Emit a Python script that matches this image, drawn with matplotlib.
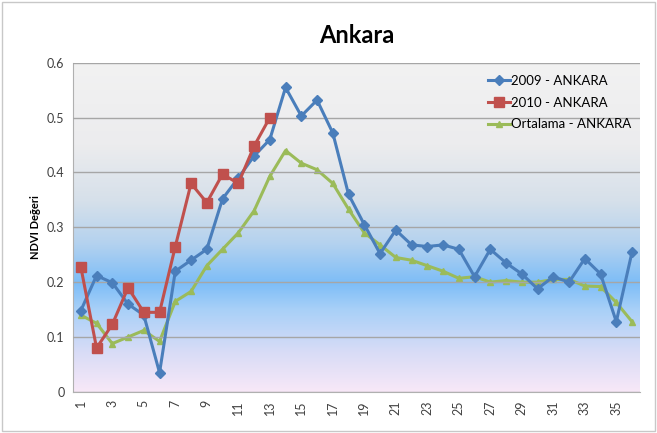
import numpy as np
import matplotlib.pyplot as plt
from matplotlib.colors import LinearSegmentedColormap
from matplotlib.patches import Rectangle

weeks = list(range(1, 37))
ndvi_2009 = [0.148, 0.212, 0.199, 0.160, 0.140, 0.035, 0.220, 0.240, 0.260, 0.352,
             0.390, 0.430, 0.460, 0.555, 0.503, 0.532, 0.472, 0.360, 0.305, 0.252,
             0.295, 0.268, 0.265, 0.268, 0.260, 0.210, 0.260, 0.235, 0.215, 0.188,
             0.210, 0.200, 0.243, 0.215, 0.128, 0.255]
ndvi_2010 = [0.228, 0.080, 0.123, 0.190, 0.145, 0.145, 0.265, 0.380, 0.345, 0.397,
             0.380, 0.448, 0.500]
ndvi_avg = [0.140, 0.125, 0.088, 0.100, 0.112, 0.092, 0.165, 0.183, 0.230, 0.260,
            0.290, 0.330, 0.393, 0.440, 0.417, 0.405, 0.380, 0.333, 0.290, 0.268,
            0.245, 0.240, 0.230, 0.220, 0.207, 0.210, 0.200, 0.203, 0.200, 0.200,
            0.205, 0.205, 0.193, 0.192, 0.163, 0.128]
labels = ['2009 - ANKARA', '2010 - ANKARA', 'Ortalama - ANKARA']

plt.rcParams['font.family'] = ['Lato', 'DejaVu Sans']

fig = plt.figure(figsize=(6.57, 4.33), dpi=100)
ax = fig.add_axes([0.111, 0.095, 0.863, 0.76])

# background gradient of the plot area
bg = LinearSegmentedColormap.from_list('bg', [
    (0.0, '#f8e8f8'), (0.12, '#d8dcf6'), (0.25, '#a8d0f8'), (0.33, '#7dbdf7'),
    (0.45, '#b4d2ef'), (0.58, '#d6e0ea'), (0.75, '#ececee'), (1.0, '#f2f2f2')])
grad = np.linspace(0, 1, 256).reshape(-1, 1)
ax.imshow(grad, cmap=bg, origin='lower', aspect='auto',
          extent=[0.5, 36.5, 0, 0.6], zorder=0)

ax.plot(weeks, ndvi_2009, color='#4a7ebb', lw=2.2, marker='D', ms=5, label=labels[0], zorder=3)
ax.plot(weeks[:len(ndvi_2010)], ndvi_2010, color='#c0504d', lw=2.2, marker='s', ms=7, label=labels[1], zorder=4)
ax.plot(weeks, ndvi_avg, color='#9bbb59', lw=2.2, marker='^', ms=5, label=labels[2], zorder=2)

ax.set_xlim(0.5, 36.5)
ax.set_ylim(0, 0.6)
ax.set_yticks(np.arange(0, 0.61, 0.1))
ax.set_yticklabels(['0', '0.1', '0.2', '0.3', '0.4', '0.5', '0.6'])
ax.set_xticks(weeks[::2])
ax.set_xticklabels([str(w) for w in weeks[::2]], rotation=90)
ax.tick_params(labelsize=9, length=0, colors='#404040', pad=6)
ax.grid(axis='y', color='#a6a6a6', lw=1)
ax.set_axisbelow(False)
for s in ['top', 'right']:
    ax.spines[s].set_visible(False)
for s in ['left', 'bottom']:
    ax.spines[s].set_color('#b0b0b0')

ax.set_ylabel('NDVI Değeri', fontsize=8, fontweight='bold')
ax.set_title('Ankara', fontsize=17, fontweight='bold', pad=14)
ax.legend(loc='upper right', frameon=False, fontsize=9.5, handlelength=1.7,
          handletextpad=0.05, labelspacing=0.75, bbox_to_anchor=(1.005, 1.0))

fig.patches.append(Rectangle((0.003, 0.005), 0.994, 0.99, transform=fig.transFigure,
                             fill=False, edgecolor='#c8c8c8', lw=1))
fig.savefig('out.png', dpi=100)
